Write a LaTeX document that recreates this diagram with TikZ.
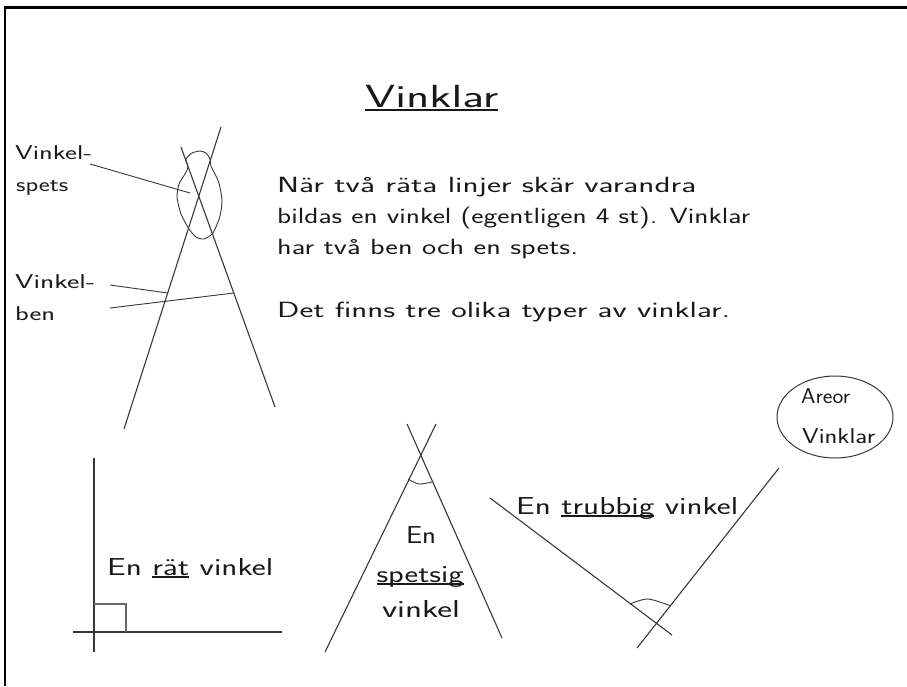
\documentclass[tikz,border=0pt]{standalone}
\usepackage{fontspec}
\usepackage{graphicx}
% stretch a piece of text horizontally to a given width, keeping its height
\newcommand{\fitw}[2]{\resizebox{#1}{\height}{#2}}
% underline sitting just under the baseline
\newcommand{\uln}[1]{\setbox0=\hbox{#1}\rlap{\rule[-0.12em]{\wd0}{0.06em}}\box0\relax}
\begin{document}
\begin{tikzpicture}[x=1pt,y=-1pt,
  ink/.style={draw=black!78,line width=1.1pt},
  txt/.style={inner sep=0pt,anchor=base west,text=black!90},
  body/.style={txt,font=\sffamily\fontsize{22}{24}\selectfont},
  small/.style={txt,font=\sffamily\fontsize{20}{22}\selectfont},
  label/.style={txt,font=\sffamily\fontsize{24.5}{26}\selectfont},
  ctr/.style={label,anchor=base}]
\useasboundingbox (0,0) rectangle (907,686);
\fill[white] (0,0) rectangle (907,686);

% page frame (top and left edges)
\draw[line width=2.6pt] (5,686) -- (5,7.5) -- (907,7.5);

% ---------- title and explanation ----------
\node[txt,font=\sffamily\fontsize{32}{34}\selectfont] (title) at (365,107) {\fitw{133pt}{\uln{Vinklar}}};
\node[body] (t1) at (277,192) {\fitw{419pt}{När två räta linjer skär varandra}};
\node[body] (t2) at (277,223) {\fitw{473pt}{bildas en vinkel (egentligen 4 st). Vinklar}};
\node[body] (t3) at (277,254) {\fitw{301pt}{har två ben och en spets.}};
\node[body] (t4) at (277,317) {\fitw{453pt}{Det finns tre olika typer av vinklar.}};

% ---------- angle with its parts ----------
\coordinate (a1) at (221,127); \coordinate (a2) at (124,429);
\coordinate (b1) at (181,147); \coordinate (b2) at (275,407);
\draw[ink] (a1) -- (a2);
\draw[ink] (b1) -- (b2);
% ring around the vertex: a small cap on top of a wider lobe
\draw[ink,line width=0.9pt] plot[smooth cycle,tension=0.4] coordinates {
  (186,159) (192,153) (200,151) (206,153) (210,159)
  (211,166) (214,172) (219,183) (222,200) (220,216) (213,233)
  (204,239) (196,237) (189,229) (181,214) (177,197)
  (179,184) (185,174) (188,167)};

\node[small] (vs1) at (15,159) {\fitw{77pt}{Vinkel-}};
\node[small] (vs2) at (16,191) {\fitw{52pt}{spets}};
\node[small] (vb1) at (15,288) {\fitw{80pt}{Vinkel-}};
\node[small] (vb2) at (15,320) {\fitw{40pt}{ben}};

\coordinate (vsS) at (90,164);  \coordinate (vsE) at (190,193);
\coordinate (vb1S) at (110,285); \coordinate (vb1E) at (168,293);
\coordinate (vb2S) at (110,308); \coordinate (vb2E) at (234,293);
\draw[ink,line width=0.9pt] (vsS) -- (vsE);
\draw[ink,line width=0.9pt] (vb1S) -- (vb1E);
\draw[ink,line width=0.9pt] (vb2S) -- (vb2E);

% ---------- right angle ----------
\coordinate (r1) at (94,458); \coordinate (r2) at (94,652);
\coordinate (h1) at (73,632); \coordinate (h2) at (282,632);
\draw[ink] (r1) -- (r2);
\draw[ink] (h1) -- (h2);
\draw[draw=black!60,line width=1.6pt] (94,604) -- (126,604) -- (126,632);
\node[label] (rt) at (107,575) {\fitw{166pt}{En \uln{rät} vinkel}};

% ---------- acute angle ----------
\coordinate (c1) at (436,424); \coordinate (c2) at (325,652);
\coordinate (d1) at (407,424); \coordinate (d2) at (502,638);
\draw[ink] (c1) -- (c2);
\draw[ink] (d1) -- (d2);
\draw[ink,line width=0.9pt] plot[smooth] coordinates {(408,479) (419,484) (432,482)};
\node[ctr] (ac1) at (421,543) {\fitw{30pt}{En}};
\node[ctr] (ac2) at (420,582) {\fitw{87pt}{\uln{spetsig}}};
\node[ctr] (ac3) at (421,617) {\fitw{78pt}{vinkel}};

% ---------- obtuse angle ----------
\coordinate (e1) at (490,498); \coordinate (e2) at (672,635);
\coordinate (f1) at (779,468); \coordinate (f2) at (637,648);
\draw[ink] (e1) -- (e2);
\draw[ink] (f1) -- (f2);
\draw[ink,line width=0.9pt] plot[smooth] coordinates {(630,604) (648,599) (671,606)};
\node[label] (ob) at (516,514) {\fitw{222pt}{En \uln{trubbig} vinkel}};

% ---------- bubble ----------
\draw[ink,line width=1pt] (835,417) ellipse [x radius=58, y radius=41];
\node[txt,font=\sffamily\fontsize{21.5}{23}\selectfont] (ar1) at (801,403) {\fitw{49pt}{Areor}};
\node[txt,font=\sffamily\fontsize{21.5}{23}\selectfont] (ar2) at (802,443) {\fitw{73pt}{Vinklar}};
\end{tikzpicture}
\end{document}
